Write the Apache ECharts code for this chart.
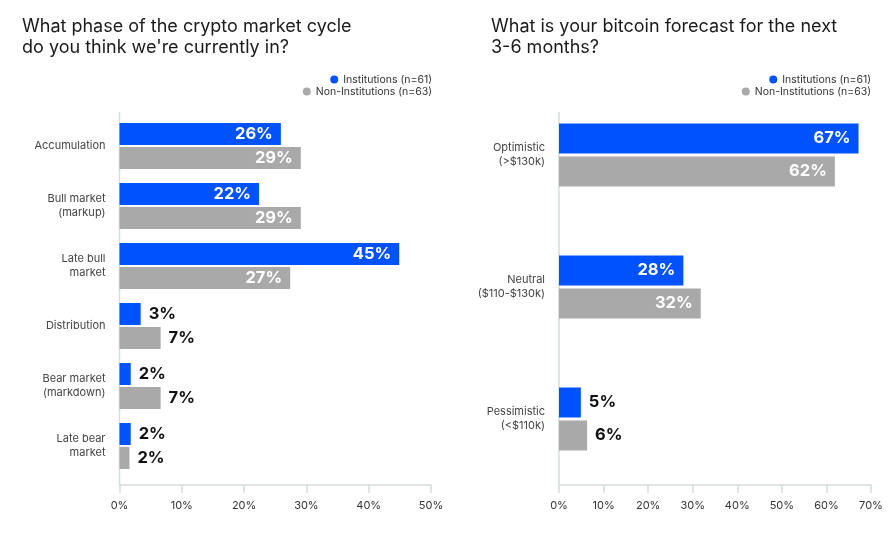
<!DOCTYPE html>
<html>
<head>
<meta charset="utf-8">
<script src="https://cdn.jsdelivr.net/npm/echarts@6/dist/echarts.min.js"></script>
<style>
html,body{margin:0;padding:0;background:#fff;}
#chart{width:896px;height:551px;}
</style>
</head>
<body>
<div id="chart"></div>
<script>
// ---- data ----
const seriesNames = ['Institutions (n=61)', 'Non-Institutions (n=63)'];
const phaseCategories = ['Accumulation', 'Bull market\n(markup)', 'Late bull\nmarket', 'Distribution', 'Bear market\n(markdown)', 'Late bear\nmarket'];
const phaseInstitutions = [25.9, 22.4, 44.9, 3.4, 1.8, 1.8];
const phaseNonInstitutions = [29.1, 29.1, 27.4, 6.6, 6.6, 1.6];
const phaseTicks = [0, 10, 20, 30, 40, 50];

const forecastCategories = ['Optimistic\n(>$130k)', 'Neutral\n($110-$130k)', 'Pessimistic\n(<$110k)'];
const forecastInstitutions = [67.2, 27.9, 4.9];
const forecastNonInstitutions = [61.9, 31.8, 6.3];
const forecastTicks = [0, 10, 20, 30, 40, 50, 60, 70];

const titles = ['What phase of the crypto market cycle\ndo you think we\'re currently in?',
                'What is your bitcoin forecast for the next\n3-6 months?'];

// ---- styles ----
const FONT = 'Inter, "Noto Sans", sans-serif';
const BLUE = '#0052ff';
const GRAY = '#a9a9a9';
const AXIS = '#d5dddd';

function items(values, threshold) {
  return values.map(v => ({
    value: v,
    label: v >= threshold
      ? { position: 'insideRight', color: '#ffffff', distance: 8 }
      : { position: 'right', color: '#111111', distance: 8 }
  }));
}
function bar(name, values, color, xi, width, gap, threshold) {
  return {
    type: 'bar', name: name, xAxisIndex: xi, yAxisIndex: xi,
    data: items(values, threshold),
    barWidth: width, barGap: gap,
    itemStyle: { color: color },
    emphasis: { disabled: true },
    label: {
      show: true, fontFamily: FONT, fontSize: 16.5, fontWeight: 'bold',
      formatter: p => Math.round(p.value) + '%'
    }
  };
}
function legend(name, right, top) {
  return {
    data: [name], right: right, top: top, icon: 'circle',
    itemWidth: 8, itemHeight: 8, padding: 0, selectedMode: false,
    textStyle: { fontFamily: FONT, fontSize: 10.5, color: '#333' }
  };
}
const xAxisBase = (max, ticks, gi, offset) => ({
  type: 'value', gridIndex: gi, min: 0, max: max, interval: 10, offset: offset,
  splitLine: { show: false },
  axisLine: { show: true, lineStyle: { color: AXIS, width: 1.5 } },
  axisTick: { show: true, length: 8, lineStyle: { color: AXIS, width: 1.5 } },
  axisLabel: { margin: 15, fontFamily: FONT, fontSize: 11, color: '#333',
    formatter: v => ticks.includes(v) ? v + '%' : '' }
});
const yAxisBase = (cats, gi) => ({
  type: 'category', gridIndex: gi, data: cats, inverse: true,
  axisLine: { show: false }, axisTick: { show: false },
  axisLabel: { margin: 14, fontFamily: FONT, fontSize: 11, color: '#444', lineHeight: 14, align: 'right' }
});
const titleStyle = { fontFamily: FONT, fontSize: 18, fontWeight: 'normal', color: '#1a1a1a', lineHeight: 21 };

const chart = echarts.init(document.getElementById('chart'));
chart.setOption({
  animation: false,
  backgroundColor: '#ffffff',
  title: [
    { text: titles[0], left: 22, top: 16, padding: 0, textStyle: titleStyle },
    { text: titles[1], left: 491, top: 16, padding: 0, textStyle: titleStyle }
  ],
  legend: [
    legend(seriesNames[0], 896 - 432, 74),
    legend(seriesNames[1], 896 - 432, 86),
    legend(seriesNames[0], 896 - 871, 74),
    legend(seriesNames[1], 896 - 871, 86)
  ],
  grid: [
    { left: 119.5, right: 896 - 431, top: 116, height: 360 },
    { left: 559, right: 896 - 871, top: 89, height: 396 }
  ],
  xAxis: [ xAxisBase(50, phaseTicks, 0, 9), xAxisBase(70, forecastTicks, 1, 0) ],
  yAxis: [ yAxisBase(phaseCategories, 0), yAxisBase(forecastCategories, 1) ],
  series: [
    bar(seriesNames[0], phaseInstitutions, BLUE, 0, 22, '9%', 10),
    bar(seriesNames[1], phaseNonInstitutions, GRAY, 0, 22, '9%', 10),
    bar(seriesNames[0], forecastInstitutions, BLUE, 1, 30, '10%', 10),
    bar(seriesNames[1], forecastNonInstitutions, GRAY, 1, 30, '10%', 10)
  ]
});

// vertical baseline of each panel, positioned from the value axes
const x0a = chart.convertToPixel({ xAxisIndex: 0 }, 0);
const x0b = chart.convertToPixel({ xAxisIndex: 1 }, 0);
chart.setOption({
  graphic: [
    { type: 'line', shape: { x1: x0a, y1: 112, x2: x0a, y2: 485 }, style: { stroke: AXIS, lineWidth: 1.5 }, silent: true },
    { type: 'line', shape: { x1: x0b, y1: 112, x2: x0b, y2: 485 }, style: { stroke: AXIS, lineWidth: 1.5 }, silent: true }
  ]
});
</script>
</body>
</html>
